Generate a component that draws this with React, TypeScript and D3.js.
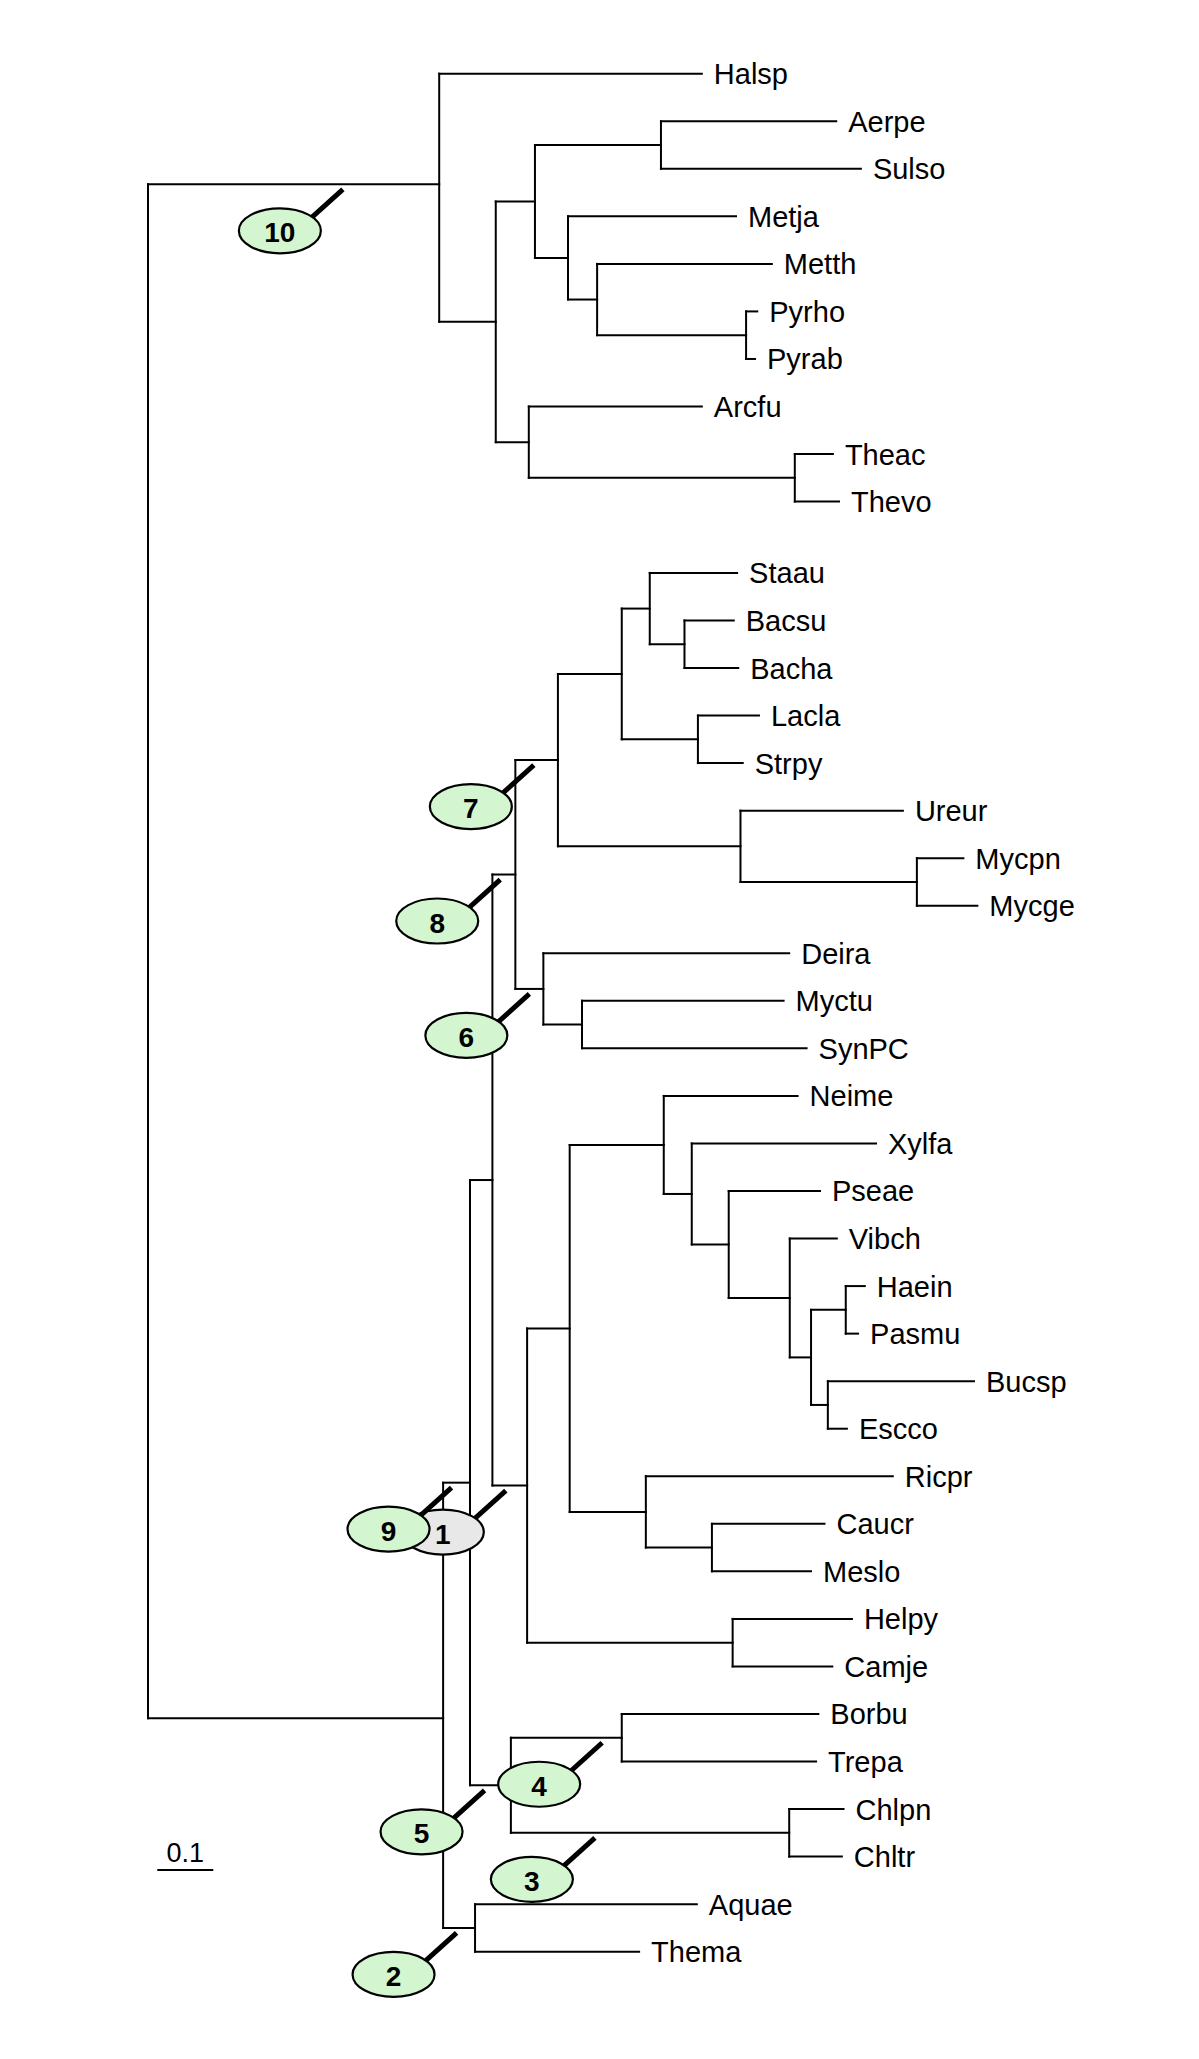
import React from 'react';
import * as d3 from 'd3';

// [id, parent, cumulative distance from root]
const rootNode: [string, string, number][] = [['root', '', 0]];

const archaeaNodes: [string, string, number][] = [
  ['Archaea', 'root', 0.52],
  ['Halsp', 'Archaea', 0.989],
  ['a1', 'Archaea', 0.621],
  ['a2', 'a1', 0.691],
  ['a3', 'a2', 0.916],
  ['Aerpe', 'a3', 1.229],
  ['Sulso', 'a3', 1.273],
  ['a4', 'a2', 0.75],
  ['Metja', 'a4', 1.05],
  ['a5', 'a4', 0.802],
  ['Metth', 'a5', 1.114],
  ['a6', 'a5', 1.068],
  ['Pyrho', 'a6', 1.088],
  ['Pyrab', 'a6', 1.084],
  ['a7', 'a1', 0.68],
  ['Arcfu', 'a7', 0.989],
  ['a8', 'a7', 1.155],
  ['Theac', 'a8', 1.223],
  ['Thevo', 'a8', 1.234],
];

const bacteriaNodes: [string, string, number][] = [
  ['Bacteria', 'root', 0.527],
  ['b1', 'Bacteria', 0.575],
  ['b2', 'b1', 0.615],
  ['b3', 'b2', 0.656],
  ['b4', 'b3', 0.732],
  ['b5', 'b4', 0.846],
  ['b6', 'b5', 0.896],
  ['Staau', 'b6', 1.052],
  ['b7', 'b6', 0.958],
  ['Bacsu', 'b7', 1.046],
  ['Bacha', 'b7', 1.054],
  ['b8', 'b5', 0.982],
  ['Lacla', 'b8', 1.091],
  ['Strpy', 'b8', 1.062],
  ['b9', 'b4', 1.058],
  ['Ureur', 'b9', 1.348],
  ['b10', 'b9', 1.373],
  ['Mycpn', 'b10', 1.456],
  ['Mycge', 'b10', 1.481],
  ['b11', 'b3', 0.706],
  ['Deira', 'b11', 1.145],
  ['b12', 'b11', 0.775],
  ['Myctu', 'b12', 1.135],
  ['SynPC', 'b12', 1.176],
  ['b13', 'b2', 0.677],
  ['b14', 'b13', 0.753],
  ['b15', 'b14', 0.921],
  ['Neime', 'b15', 1.16],
  ['b16', 'b15', 0.971],
  ['Xylfa', 'b16', 1.3],
  ['b17', 'b16', 1.037],
  ['Pseae', 'b17', 1.2],
  ['b18', 'b17', 1.146],
  ['Vibch', 'b18', 1.23],
  ['b19', 'b18', 1.184],
  ['b20', 'b19', 1.246],
  ['Haein', 'b20', 1.28],
  ['Pasmu', 'b20', 1.268],
  ['b21', 'b19', 1.214],
  ['Bucsp', 'b21', 1.475],
  ['Escco', 'b21', 1.248],
  ['b22', 'b14', 0.889],
  ['Ricpr', 'b22', 1.33],
  ['b23', 'b22', 1.007],
  ['Caucr', 'b23', 1.208],
  ['Meslo', 'b23', 1.184],
  ['b24', 'b13', 1.044],
  ['Helpy', 'b24', 1.257],
  ['Camje', 'b24', 1.222],
  ['b25', 'b1', 0.648],
  ['b26', 'b25', 0.846],
  ['Borbu', 'b26', 1.197],
  ['Trepa', 'b26', 1.193],
  ['b27', 'b25', 1.145],
  ['Chlpn', 'b27', 1.242],
  ['Chltr', 'b27', 1.239],
  ['b28', 'Bacteria', 0.584],
  ['Aquae', 'b28', 0.98],
  ['Thema', 'b28', 0.877],
];

// rows (in leaf units) where the root branches join the two domains
const rootAttachRows = [2.326, 34.59];
const domainGapRows = 0.5;

// numbered branch markers
const badgeLabels = ['10', '7', '8', '6', '1', '9', '5', '4', '3', '2'];
const badgeBranches = ['Archaea', 'b4', 'b3', 'b11', 'b13', 'b1', 'b25', 'b26', 'b27', 'b28'];
const badgePositions = [0.348, 0.689, 0.629, 0.681, 0.639, 0.542, 0.601, 0.811, 0.798, 0.551];
const greyBadge = '1';

const scaleBarValue = 0.1;
const scaleBarLabel = '0.1';

const W = 1199;
const H = 2059;
const FONT = "'Liberation Sans', Arial, Helvetica, sans-serif";

export default function App() {
  const rows = [...rootNode, ...archaeaNodes, ...bacteriaNodes].map((r) => ({ id: r[0], parent: r[1], dist: r[2] }));
  const root = d3
    .stratify<{ id: string; parent: string; dist: number }>()
    .id((d) => d.id)
    .parentId((d) => (d.parent === '' ? null : d.parent))(rows);

  const leaves = root.leaves();
  const firstDomainCount = root.children![0].leaves().length;
  const lastRow = leaves.length - 1 + domainGapRows;

  const x = d3.scaleLinear().domain([0, 1]).range([148, 708]);
  const y = d3.scaleLinear().domain([0, lastRow]).range([73.7, 1951.7]);

  const pos = new Map<string, { x: number; y: number }>();
  leaves.forEach((lf, i) => {
    const row = i + (i >= firstDomainCount ? domainGapRows : 0);
    pos.set(lf.id!, { x: x(lf.data.dist), y: y(row) });
  });
  root.eachAfter((n) => {
    if (n.children) {
      const ys = n.children.map((c) => pos.get(c.id!)!.y);
      pos.set(n.id!, { x: x(n.data.dist), y: (ys[0] + ys[ys.length - 1]) / 2 });
    }
  });
  const branchY = new Map<string, number>();
  root.each((n) => {
    if (n.parent === null) return;
    if (n.parent === root) {
      const idx = root.children!.indexOf(n);
      branchY.set(n.id!, y(rootAttachRows[idx]));
    } else branchY.set(n.id!, pos.get(n.id!)!.y);
  });

  const lines: { x1: number; y1: number; x2: number; y2: number }[] = [];
  root.each((n) => {
    const p = pos.get(n.id!)!;
    if (n.children) {
      const ys =
        n === root ? n.children.map((c) => branchY.get(c.id!)!) : n.children.map((c) => pos.get(c.id!)!.y);
      lines.push({ x1: p.x, y1: ys[0], x2: p.x, y2: ys[ys.length - 1] });
    }
    if (n.parent) {
      const pp = pos.get(n.parent.id!)!;
      const by = branchY.get(n.id!)!;
      lines.push({ x1: pp.x, y1: by, x2: p.x, y2: by });
    }
  });

  const badges = badgeLabels.map((lab, i) => {
    const tx = x(badgePositions[i]);
    const ty = branchY.get(badgeBranches[i])! + 5;
    return { lab, tx, ty, cx: tx - 63, cy: ty + 41.5, grey: lab === greyBadge };
  });

  const sbX = 157.3;
  const sbY = 1870;
  const sbLen = x(scaleBarValue) - x(0);

  return (
    <svg width={W} height={H} style={{ position: 'absolute', left: 0, top: 0, background: '#fff' }} xmlns="http://www.w3.org/2000/svg">
      <rect x={0} y={0} width={W} height={H} fill="#fff" />
      <g stroke="#000" strokeWidth={2} strokeLinecap="square" fill="none">
        {lines.map((l, i) => (
          <line key={i} x1={l.x1} y1={l.y1} x2={l.x2} y2={l.y2} />
        ))}
      </g>
      <g fontFamily={FONT} fontSize={29} fill="#000">
        {leaves.map((lf) => {
          const p = pos.get(lf.id!)!;
          return (
            <text key={lf.id} x={p.x + 12} y={p.y + 10.5}>
              {lf.id}
            </text>
          );
        })}
      </g>
      <g>
        {badges.map((b) => (
          <g key={b.lab}>
            <line x1={b.tx} y1={b.ty} x2={b.tx - 40} y2={b.ty + 36} stroke="#000" strokeWidth={5} />
            <ellipse cx={b.cx} cy={b.cy} rx={41} ry={22.5} fill={b.grey ? '#e8e8e8' : '#d3f5cf'} stroke="#000" strokeWidth={2.2} />
            <text x={b.cx} y={b.cy + 11.5} textAnchor="middle" fontFamily={FONT} fontWeight="bold" fontSize={28} fill="#000">
              {b.lab}
            </text>
          </g>
        ))}
      </g>
      <line x1={sbX} y1={sbY} x2={sbX + sbLen} y2={sbY} stroke="#000" strokeWidth={2} />
      <text x={sbX + sbLen / 2} y={sbY - 8} textAnchor="middle" fontFamily={FONT} fontSize={27} fill="#000">
        {scaleBarLabel}
      </text>
    </svg>
  );
}
